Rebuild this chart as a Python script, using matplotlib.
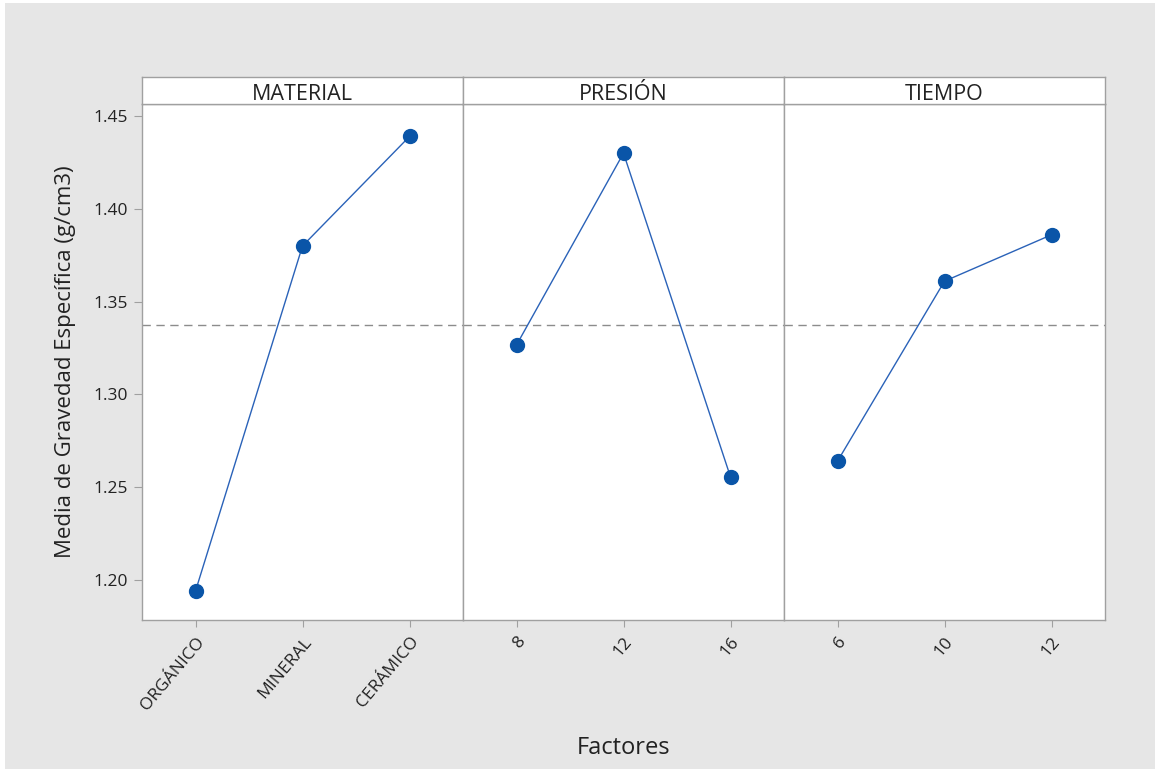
import matplotlib
matplotlib.use("Agg")
import matplotlib.pyplot as plt
from matplotlib.patches import Rectangle

plt.rcParams['font.family'] = ['Open Sans', 'DejaVu Sans']

factors = ["MATERIAL", "PRESIÓN", "TIEMPO"]
levels_material = ["ORGÁNICO", "MINERAL", "CERÁMICO"]
levels_presion = ["8", "12", "16"]
levels_tiempo = ["6", "10", "12"]
means_material = [1.194, 1.380, 1.439]
means_presion = [1.3266, 1.430, 1.2555]
means_tiempo = [1.264, 1.361, 1.386]
grand_mean = 1.3374
yticks = [1.20, 1.25, 1.30, 1.35, 1.40, 1.45]

levels = [levels_material, levels_presion, levels_tiempo]
means = [means_material, means_presion, means_tiempo]

W, H = 1155, 769
fig = plt.figure(figsize=(W / 100, H / 100), dpi=100)
fig.patch.set_facecolor('white')
# light frame: thin white edge at top and left, gray panel elsewhere
fig.patches.append(Rectangle((5 / W, 0), 1 - 5 / W, 1 - 3 / H,
                             transform=fig.transFigure, facecolor='#e6e6e6',
                             edgecolor='none', zorder=-10))

left, right = 142 / W, 1105 / W
bottom, top = 1 - 620 / H, 1 - 104 / H
strip_top = 1 - 77 / H
pw = (right - left) / 3

edge = '#a0a0a0'
blue_line = '#2a62b8'
blue_mark = '#0a55a8'
txt = '#222222'

for i in range(3):
    ax = fig.add_axes([left + i * pw, bottom, pw, top - bottom])
    x = list(range(len(levels[i])))
    ax.axhline(grand_mean, color='#8c8c8c', lw=1.0, ls=(0, (6, 4)), zorder=1)
    ax.plot(x, means[i], color=blue_line, lw=1.0, marker='o', ms=10,
            mfc=blue_mark, mec=blue_mark, zorder=3)
    ax.set_xlim(-0.5, 2.5)
    ax.set_ylim(1.1784, 1.4565)
    ax.set_xticks(x)
    ax.set_xticklabels(levels[i], rotation=50, ha='right', rotation_mode='anchor',
                       fontsize=12.5)
    ax.tick_params(axis='x', colors=edge, labelcolor=txt, length=5, pad=5)
    if i == 0:
        ax.set_yticks(yticks)
        ax.set_yticklabels([f"{v:.2f}" for v in yticks], fontsize=12.5)
        ax.tick_params(axis='y', colors=edge, labelcolor=txt, length=6, pad=4)
        ax.set_ylabel("Media de Gravedad Específica (g/cm3)", fontsize=16,
                      color=txt, labelpad=13)
    else:
        ax.set_yticks([])
    for s in ax.spines.values():
        s.set_color(edge)
        s.set_linewidth(1.0)

    sax = fig.add_axes([left + i * pw, top, pw, strip_top - top])
    sax.set_xticks([])
    sax.set_yticks([])
    sax.set_facecolor('white')
    for s in sax.spines.values():
        s.set_color(edge)
        s.set_linewidth(1.0)
    sax.text(0.5, 0.36, factors[i], ha='center', va='center', fontsize=15.5,
             color=txt, transform=sax.transAxes)

fig.text((left + right) / 2, 1 - 748 / H, "Factores", ha='center', va='center',
         fontsize=17, color=txt)

fig.savefig("out.png", dpi=100)
